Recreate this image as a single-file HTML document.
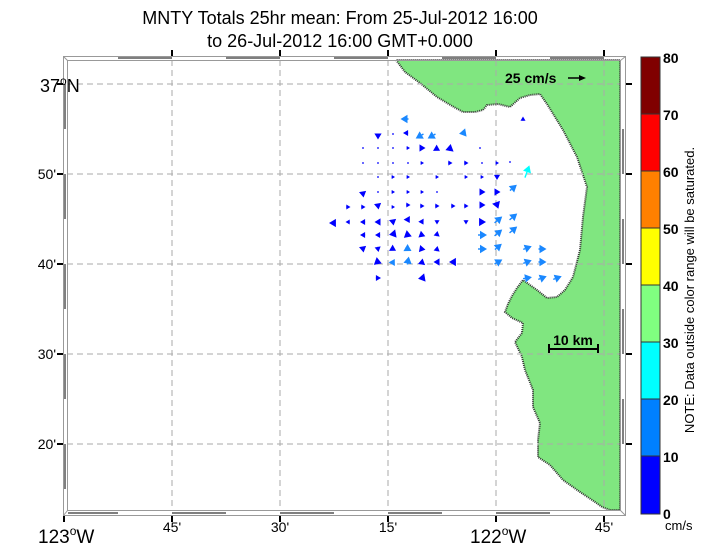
<!DOCTYPE html>
<html><head><style>
body{margin:0;background:#fff}
svg{display:block;font-family:"Liberation Sans",sans-serif}
</style></head><body>
<svg id="s" width="703" height="548" xmlns="http://www.w3.org/2000/svg">
<text x="340" y="24" font-size="18" text-anchor="middle">MNTY Totals 25hr mean: From 25-Jul-2012 16:00</text>
<text x="340" y="47" font-size="18" text-anchor="middle">to 26-Jul-2012 16:00 GMT+0.000</text>
<polygon fill="#80e680" stroke="#333" stroke-width="2" stroke-dasharray="1 1" points="396,60 405,72 420,83 437,97 452,106 463,112 475,112 483,110 487,105 498,104 510,107 520,98 530,95 540,94 547,104 563,130 577,157 587,187 583,217 580,250 573,277 565,290 557,297 547,298 537,290 523,280 517,288 512,296 508,304 505,312 512,318 523,323 522,333 515,342 522,357 525,370 533,390 533,407 540,423 538,440 538,457 550,465 563,480 580,492 595,502 602,507 610,510 620,510 620,60"/>
<g stroke="#aaa" stroke-dasharray="6 4" stroke-width="1">
<line x1="172" y1="60" x2="172" y2="510"/><line x1="280" y1="60" x2="280" y2="510"/><line x1="388" y1="60" x2="388" y2="510"/><line x1="496" y1="60" x2="496" y2="510"/><line x1="604" y1="60" x2="604" y2="510"/>
<line x1="67" y1="84" x2="620" y2="84"/><line x1="67" y1="174" x2="620" y2="174"/><line x1="67" y1="264" x2="620" y2="264"/><line x1="67" y1="354" x2="620" y2="354"/><line x1="67" y1="444" x2="620" y2="444"/>
</g>
<g fill="none" stroke="#999">
<rect x="63.5" y="56.5" width="562" height="459"/>
<rect x="67.5" y="60.5" width="553" height="450"/>
<line x1="63.5" y1="515.5" x2="67.5" y2="510.5"/><line x1="625.5" y1="56.5" x2="620.5" y2="60.5"/><line x1="63.5" y1="56.5" x2="67.5" y2="60.5"/><line x1="625.5" y1="515.5" x2="620.5" y2="510.5"/>
</g>
<g stroke="#555" stroke-width="1.5">
<line x1="68" y1="513" x2="118" y2="513"/><line x1="172" y1="513" x2="226" y2="513"/><line x1="280" y1="513" x2="334" y2="513"/><line x1="388" y1="513" x2="442" y2="513"/><line x1="496" y1="513" x2="550" y2="513"/>
<line x1="118" y1="58" x2="172" y2="58"/><line x1="226" y1="58" x2="280" y2="58"/><line x1="334" y1="58" x2="388" y2="58"/><line x1="442" y1="58" x2="496" y2="58"/><line x1="550" y1="58" x2="604" y2="58"/>
<line x1="65" y1="84" x2="65" y2="129"/><line x1="65" y1="174" x2="65" y2="219"/><line x1="65" y1="264" x2="65" y2="309"/><line x1="65" y1="354" x2="65" y2="399"/><line x1="65" y1="444" x2="65" y2="489"/>
<line x1="623" y1="129" x2="623" y2="174"/><line x1="623" y1="219" x2="623" y2="264"/><line x1="623" y1="309" x2="623" y2="354"/><line x1="623" y1="399" x2="623" y2="444"/>
</g>
<g stroke="#000" stroke-width="2">
<line x1="64" y1="516" x2="64" y2="522"/><line x1="172" y1="516" x2="172" y2="522"/><line x1="280" y1="516" x2="280" y2="522"/><line x1="388" y1="516" x2="388" y2="522"/><line x1="496" y1="516" x2="496" y2="522"/><line x1="604" y1="516" x2="604" y2="522"/>
<line x1="172" y1="50" x2="172" y2="56"/><line x1="280" y1="50" x2="280" y2="56"/><line x1="388" y1="50" x2="388" y2="56"/><line x1="496" y1="50" x2="496" y2="56"/><line x1="604" y1="50" x2="604" y2="56"/>
<line x1="57" y1="84" x2="63" y2="84"/><line x1="57" y1="174" x2="63" y2="174"/><line x1="57" y1="264" x2="63" y2="264"/><line x1="57" y1="354" x2="63" y2="354"/><line x1="57" y1="444" x2="63" y2="444"/>
<line x1="626" y1="84" x2="632" y2="84"/><line x1="626" y1="174" x2="632" y2="174"/><line x1="626" y1="264" x2="632" y2="264"/><line x1="626" y1="354" x2="632" y2="354"/><line x1="626" y1="444" x2="632" y2="444"/>
</g>
<g font-size="14">
<text x="40" y="92" font-size="18">37<tspan font-size="12" dy="-7">o</tspan><tspan dy="7">N</tspan></text>
<text x="56" y="179" text-anchor="end">50'</text><text x="56" y="269" text-anchor="end">40'</text><text x="56" y="359" text-anchor="end">30'</text><text x="56" y="449" text-anchor="end">20'</text>
<text x="38" y="543" font-size="19">123<tspan font-size="12" dy="-8">o</tspan><tspan dy="8">W</tspan></text>
<text x="172" y="532" text-anchor="middle">45'</text><text x="280" y="532" text-anchor="middle">30'</text><text x="388" y="532" text-anchor="middle">15'</text>
<text x="470" y="543" font-size="19">122<tspan font-size="12" dy="-8">o</tspan><tspan dy="8">W</tspan></text>
<text x="604" y="532" text-anchor="middle">45'</text>
</g>
<text x="505" y="83" font-size="14" font-weight="bold">25 cm/s</text>
<line x1="568" y1="78" x2="580" y2="78" stroke="#000" stroke-width="1.5"/><polygon points="579,75 586,78 579,81"/>
<text x="573" y="345" font-size="14" font-weight="bold" text-anchor="middle">10 km</text>
<g stroke="#000" stroke-width="2"><line x1="549" y1="349" x2="598" y2="349"/><line x1="549" y1="344" x2="549" y2="353"/><line x1="598" y1="344" x2="598" y2="353"/></g>
<g id="arr"></g>
<g stroke="#333" stroke-width="1">
<rect x="641" y="57" width="19" height="57" fill="#800000"/>
<rect x="641" y="114" width="19" height="57" fill="#ff0000"/>
<rect x="641" y="171" width="19" height="57" fill="#ff8000"/>
<rect x="641" y="228" width="19" height="57" fill="#ffff00"/>
<rect x="641" y="285" width="19" height="57" fill="#80ff80"/>
<rect x="641" y="342" width="19" height="57" fill="#00ffff"/>
<rect x="641" y="399" width="19" height="57" fill="#0080ff"/>
<rect x="641" y="456" width="19" height="58" fill="#0000ff"/>
</g>
<g font-size="14" font-weight="bold">
<text x="663" y="63">80</text><text x="663" y="120">70</text><text x="663" y="177">60</text><text x="663" y="234">50</text><text x="663" y="291">40</text><text x="663" y="348">30</text><text x="663" y="405">20</text><text x="663" y="462">10</text><text x="663" y="519">0</text>
</g>
<text x="665" y="530" font-size="13">cm/s</text>
<text transform="translate(694,290) rotate(-90)" font-size="13" text-anchor="middle">NOTE: Data outside color range will be saturated.</text>
</svg>
<script>
var B="#0000ff",L="#1a88ff",C="#00ffff";
var a=[
[405,119,L,180,7],[523,119,B,-90,3],
[378,136,B,90,5],[393,134,B,0,1],[406,133,B,180,4],[420,136,L,150,8],[432,136,L,150,8],[463,133,L,170,6],
[363,148,B,0,1],[378,148,B,0,1],[393,148,B,0,1],[408,148,B,0,2],[422,148,B,0,5],[437,149,B,30,5],[450,148,B,-80,6],[480,148,B,0,1],
[363,163,B,0,1],[378,163,B,0,1],[393,163,B,0,1],[408,163,B,0,1],[422,163,B,0,2],[450,163,B,0,3],[466,163,B,0,3],[482,163,B,0,1],[497,163,B,0,2],[510,162,B,0,1],[527,172,C,-70,12],
[378,177,B,0,1],[393,177,B,0,2],[408,177,B,0,2],[437,177,B,0,2],[466,177,B,0,2],[482,177,B,0,2],[497,177,B,90,4],
[363,194,B,80,5],[378,192,B,0,1],[393,192,B,0,2],[408,192,B,0,2],[422,192,B,0,2],[437,192,B,0,1],[482,192,B,0,5],[497,192,B,0,5],[513,188,L,-40,8],
[348,207,B,0,3],[363,207,B,0,3],[378,206,B,80,5],[393,207,B,0,2],[408,205,B,0,3],[422,206,B,0,3],[437,206,B,0,3],[453,206,B,0,3],[466,206,B,0,3],[482,205,B,0,5],[497,205,B,70,6],
[333,223,B,180,6],[348,222,B,180,3],[363,222,B,180,4],[378,222,B,180,5],[393,222,B,80,5],[408,220,B,60,5],[422,222,B,60,4],[437,222,B,90,3],[466,222,B,90,3],[482,222,B,0,6],[498,220,L,-40,9],[513,217,L,-40,9],
[363,235,B,180,4],[378,235,B,180,4],[393,234,B,170,6],[408,235,B,20,6],[422,235,B,20,5],[437,234,B,-80,4],[482,235,L,0,8],[498,233,L,-40,9],[513,230,L,-40,9],
[363,249,B,80,5],[378,249,B,80,4],[393,249,B,30,5],[408,249,L,30,6],[422,249,B,10,5],[437,249,B,-80,4],[482,249,L,0,8],[498,247,L,-40,8],[527,248,L,-20,8],[542,249,L,0,7],
[378,262,B,20,6],[393,262,L,-60,5],[408,261,L,-80,7],[422,262,B,-80,5],[437,262,B,180,5],[453,262,B,180,6],[498,262,L,-30,8],[527,262,L,-20,8],[542,262,L,0,7],
[378,278,B,0,4],[422,278,B,170,6],[527,278,L,-10,8],[542,278,L,-20,8],[557,278,L,-20,8]];
var g=document.getElementById("arr"),h="";
a.forEach(function(p){var x=p[0],y=p[1],c=p[2],t=p[3]*Math.PI/180,l=p[4];
if(l<2){h+='<circle cx="'+x+'" cy="'+y+'" r="0.9" fill="'+c+'"/>';return;}
var dx=Math.cos(t),dy=Math.sin(t),tx=x-dx*l/2,ty=y-dy*l/2,hx=x+dx*(l/2+1),hy=y+dy*(l/2+1),s=Math.min(7,l*0.9+1.5),w=s*0.6;
var bx=hx-dx*s,by=hy-dy*s;
h+='<line x1="'+tx+'" y1="'+ty+'" x2="'+bx+'" y2="'+by+'" stroke="'+c+'" stroke-width="1.4"/>';
h+='<polygon fill="'+c+'" points="'+hx+','+hy+' '+(bx-dy*w)+','+(by+dx*w)+' '+(bx+dy*w)+','+(by-dx*w)+'"/>';});
g.innerHTML=h;
</script>
</body></html>
